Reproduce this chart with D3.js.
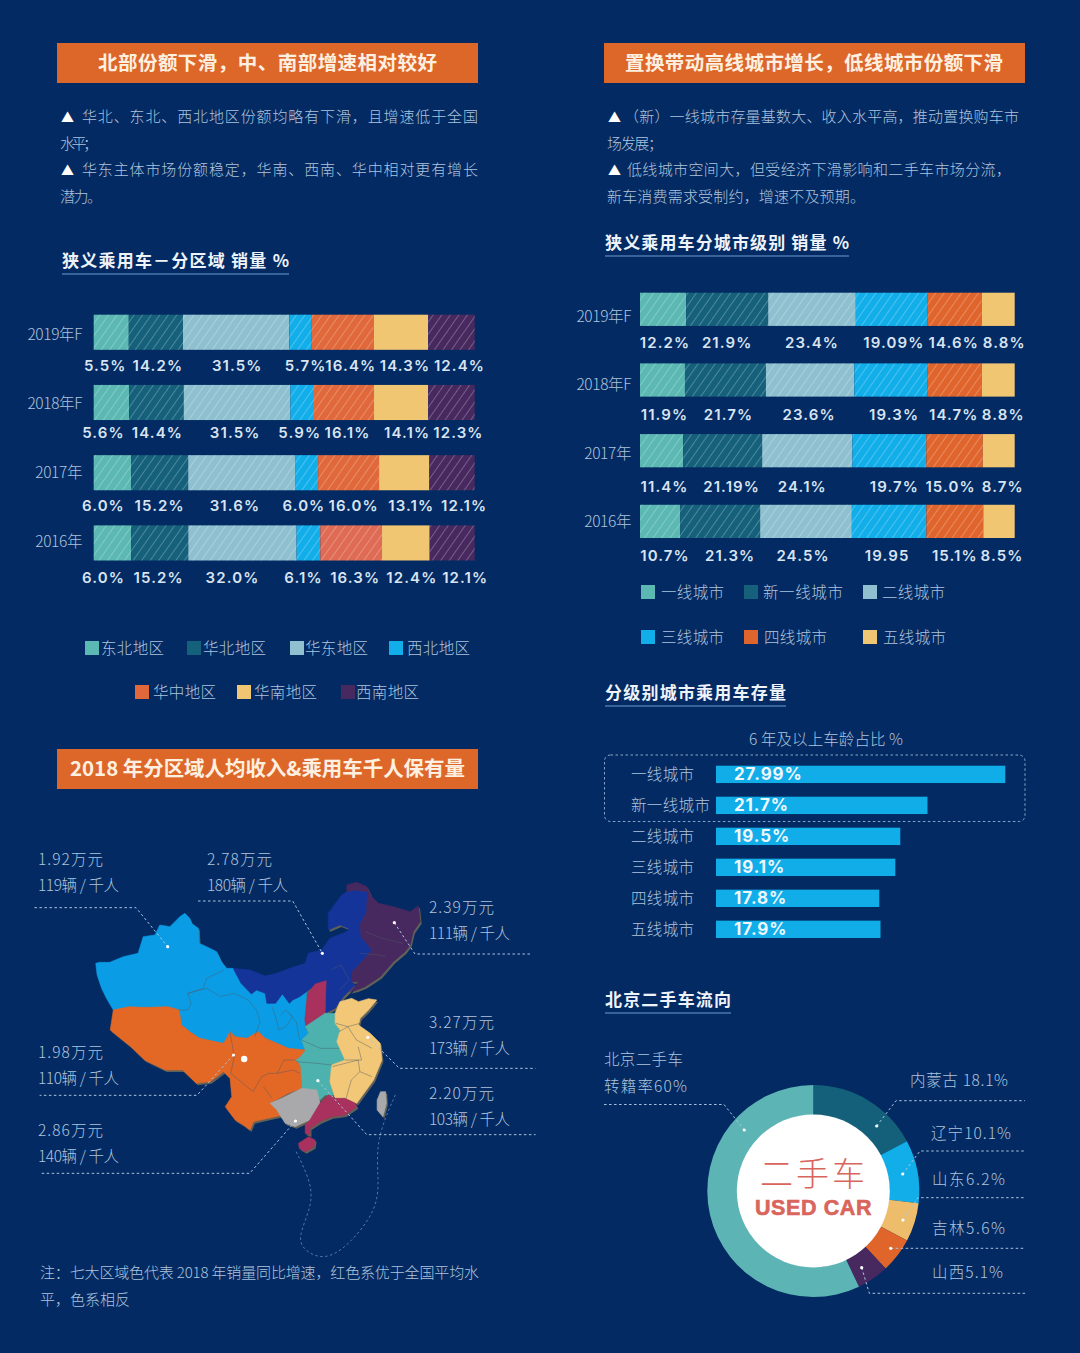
<!DOCTYPE html>
<html>
<head>
<meta charset="utf-8">
<script src="https://cdn.jsdelivr.net/npm/d3@7"></script>
<style>
    html, body { margin: 0; padding: 0; background: #032a62; }
    svg { display: block; }
    text { font-family: "Noto Sans CJK SC", sans-serif; }
</style>
</head>
<body>
<svg id="chart" width="1080" height="1353"></svg>
<script>
// region chart
const years = ["2019年F", "2018年F", "2017年", "2016年"];
const regions = ["东北地区", "华北地区", "华东地区", "西北地区", "华中地区", "华南地区", "西南地区"];
// segment lengths as drawn in the picture (they do not follow the printed labels exactly)
const regionShares = [
    [9.2, 14.2, 27.9, 5.9, 16.2, 14.3, 12.2],
    [9.3, 14.3, 28.0, 5.9, 16.0, 14.2, 12.2],
    [9.8, 15.0, 28.2, 5.9, 16.0, 13.2, 11.9],
    [9.8, 15.0, 28.4, 6.2, 16.2, 12.5, 11.8],
];
const regionLabels = [
    ["5.5%", "14.2%", "31.5%", "5.7%", "16.4%", "14.3%", "12.4%"],
    ["5.6%", "14.4%", "31.5%", "5.9%", "16.1%", "14.1%", "12.3%"],
    ["6.0%", "15.2%", "31.6%", "6.0%", "16.0%", "13.1%", "12.1%"],
    ["6.0%", "15.2%", "32.0%", "6.1%", "16.3%", "12.4%", "12.1%"],
];

// city tier chart
const tiers = ["一线城市", "新一线城市", "二线城市", "三线城市", "四线城市", "五线城市"];
const tierShares = [
    [12.3, 21.9, 23.4, 19.2, 14.4, 8.8],
    [12.0, 21.6, 23.6, 19.6, 14.4, 8.8],
    [11.5, 21.1, 24.1, 19.7, 15.1, 8.5],
    [10.7, 21.4, 24.5, 19.9, 15.2, 8.4],
];
const tierLabels = [
    ["12.2%", "21.9%", "23.4%", "19.09%", "14.6%", "8.8%"],
    ["11.9%", "21.7%", "23.6%", "19.3%", "14.7%", "8.8%"],
    ["11.4%", "21.19%", "24.1%", "19.7%", "15.0%", "8.7%"],
    ["10.7%", "21.3%", "24.5%", "19.95", "15.1%", "8.5%"],
];

// car age bars
const ageValues = [27.99, 21.7, 19.5, 19.1, 17.8, 17.9];
const ageLabels = ["27.99%", "21.7%", "19.5%", "19.1%", "17.8%", "17.9%"];

// flow donut
const flowNames = ["内蒙古", "辽宁", "山东", "吉林", "山西", "北京二手车转籍率"];
const flowValues = [18.1, 10.1, 6.2, 5.6, 5.1, 60];

// map callouts
const mapIncome = ["1.92万元", "2.78万元", "2.39万元", "3.27万元", "2.20万元", "1.98万元", "2.86万元"];
const mapCars = ["119辆 / 千人", "180辆 / 千人", "111辆 / 千人", "173辆 / 千人", "103辆 / 千人", "110辆 / 千人", "140辆 / 千人"];

// map outlines, traced in a 1568x1320 tracing space
const mapShapes = [
    { fill: "#0a9de6", pts: [[278,370],[290,367],[319,367],[358,350],[401,340],[416,290],[450,285],[464,255],[493,260],[508,245],[522,230],[537,220],[551,235],[556,250],[576,265],[578,310],[600,320],[629,335],[643,365],[658,385],[677,385],[700,430],[730,462],[745,450],[770,460],[775,490],[800,490],[820,462],[840,490],[850,480],[870,470],[890,455],[885,565],[896,580],[876,600],[886,630],[837,625],[794,605],[770,595],[750,575],[716,595],[683,590],[668,575],[658,595],[648,610],[580,595],[551,575],[527,555],[524,535],[520,510],[488,500],[435,502],[406,502],[377,500],[353,505],[329,510],[309,475],[295,445],[282,405]] },
    { fill: "#15349a", pts: [[677,385],[726,390],[770,408],[803,400],[842,385],[886,370],[895,340],[934,330],[958,295],[1007,275],[1012,265],[987,255],[953,270],[953,220],[992,165],[1007,155],[1030,150],[1070,155],[1065,190],[1065,215],[1045,255],[1049,290],[1080,330],[1060,355],[1023,395],[1021,425],[1031,435],[997,470],[973,505],[944,520],[947,425],[920,432],[890,455],[870,470],[850,480],[840,490],[820,462],[800,490],[775,490],[770,460],[745,450],[730,462],[700,430]] },
    { fill: "#47295f", pts: [[1007,155],[1007,135],[1036,127],[1065,140],[1079,170],[1099,190],[1142,200],[1191,215],[1215,197],[1220,245],[1200,275],[1191,315],[1176,335],[1142,365],[1104,410],[1060,440],[1036,450],[1016,455],[1026,445],[1041,425],[1021,425],[1023,395],[1060,355],[1080,330],[1049,290],[1045,255],[1065,215],[1065,190],[1070,155],[1030,150]] },
    { fill: "#a8315e", pts: [[915,432],[947,422],[945,470],[944,522],[925,540],[890,560],[885,540],[890,490],[895,460]] },
    { fill: "#4db2ae", pts: [[886,560],[944,520],[973,520],[973,550],[988,570],[978,605],[1002,660],[963,675],[958,725],[968,765],[944,765],[929,780],[886,750],[876,745],[871,675],[857,660],[871,650],[886,630],[876,600],[896,580]] },
    { fill: "#f2c777", pts: [[973,520],[987,485],[1021,475],[1041,485],[1070,476],[1094,480],[1070,510],[1046,535],[1041,555],[1075,580],[1104,610],[1109,660],[1085,720],[1036,790],[1002,775],[973,775],[958,725],[963,675],[1002,660],[978,605],[988,570],[973,550]] },
    { fill: "#e36826", pts: [[329,510],[353,505],[377,500],[406,502],[435,502],[488,500],[520,510],[524,535],[527,555],[551,575],[580,595],[648,610],[658,595],[668,575],[683,590],[716,595],[750,575],[770,595],[794,605],[837,625],[886,630],[871,650],[857,660],[871,675],[876,745],[837,760],[784,790],[804,810],[823,825],[779,835],[736,845],[726,870],[707,855],[683,840],[654,800],[673,770],[668,715],[649,695],[610,725],[570,730],[530,690],[480,690],[420,660],[380,620],[320,570]] },
    { fill: "#a9a9ab", pts: [[784,790],[818,775],[876,745],[920,750],[929,790],[900,840],[857,860],[828,850],[813,825],[804,810]] },
    { fill: "#a8315e", pts: [[929,790],[954,765],[973,775],[1002,775],[1031,790],[1036,800],[1002,825],[963,830],[929,845],[900,865],[900,885],[886,880],[886,855],[900,840]] },
    { fill: "#a8315e", pts: [[867,910],[896,890],[915,900],[912,920],[886,935],[869,925]] },
    { fill: "#a9a9ab", pts: [[1105,755],[1120,755],[1122,790],[1112,830],[1095,810],[1095,780]] },
];
const mapBorders = [
    [[520,510],[545,510],[555,490],[545,460],[590,445],[600,415],[650,390]],
    [[545,460],[600,445],[640,470],[680,460],[720,480],[745,510],[755,545],[740,590]],
    [[790,500],[800,530],[810,570],[830,560],[850,530],[830,510],[815,525]],
    [[840,520],[860,545],[870,600]],
    [[668,575],[680,650],[670,700],[735,755],[760,710],[780,700],[805,700],[825,660],[857,660]],
    [[765,740],[790,775]],
    [[805,700],[850,690],[871,700]],
    [[876,600],[930,625],[985,625]],
    [[860,665],[920,670],[963,675]],
    [[975,550],[1010,560],[1045,550]],
    [[985,575],[1010,560],[1035,600],[1080,625]],
    [[1002,660],[1050,660],[1040,620]],
    [[965,680],[1040,660],[1045,695],[1080,710]],
    [[1045,695],[1020,720],[1005,775]],
    [[1060,275],[1110,295],[1170,310]],
    [[1045,340],[1100,345],[1120,350]],
    [[960,390],[990,375],[1015,420],[985,450]],
];
const mapLeaders = [
    [[100,203],[395,203],[487,320]],
    [[575,183],[850,183],[936,340]],
    [[1145,248],[1205,342],[1540,342]],
    [[1068,592],[1160,685],[1555,685]],
    [[923,722],[1065,884],[1555,884]],
    [[678,645],[572,766],[115,766]],
    [[858,843],[725,1000],[120,1000]],
];
const seaLine = [[860,935],[905,1030],[905,1100],[865,1190],[880,1230],[940,1262],[1010,1220],[1095,1110],[1100,1020],[1090,900],[1150,760]];

const regionColors = ["#5bb8b2", "#15607a", "#8fc0d0", "#12aeea", "#e0683a", "#f1c673", "#47295f"];
const tierColors = ["#5bb8b2", "#15607a", "#8fc0d0", "#12aeea", "#e0652c", "#f1c673"];
const bodyColor = "#aec4de";
const dashColor = "#a9c4e2";

const svg = d3.select("#chart");

svg.append("rect")
    .attr("width", 1080)
    .attr("height", 1353)
    .attr("fill", "#032a62");

// diagonal hatch used on the stacked bars
const hatch = svg
    .append("defs")
    .append("pattern")
    .attr("id", "hatch")
    .attr("patternUnits", "userSpaceOnUse")
    .attr("width", 7)
    .attr("height", 7)
    .attr("patternTransform", "rotate(35)");
hatch
    .append("line")
    .attr("x1", 3.5)
    .attr("x2", 3.5)
    .attr("y1", 0)
    .attr("y2", 7)
    .attr("stroke", "#fff")
    .attr("stroke-opacity", 0.25)
    .attr("stroke-width", 1);

function addText(x, y, str, opts = {}) {
    const node = svg
        .append("text")
        .attr("x", x)
        .attr("y", y)
        .attr("dy", "0.36em")
        .attr("fill", opts.color || bodyColor)
        .attr("font-size", opts.size || 15)
        .attr("font-weight", opts.weight || 300)
        .attr("text-anchor", opts.anchor || "start")
        .text(str);
    if (opts.family) node.style("font-family", opts.family);
    if (opts.spacing) node.attr("letter-spacing", opts.spacing);
    if (opts.width) node.attr("textLength", opts.width).attr("lengthAdjust", "spacing");
    return node;
}

function addBullet(x, y) {
    addText(x, y, "▲", { color: "#ffffff", size: 13, weight: 400 });
}

function addHeader(x, y, str, textX, textWidth, size) {
    svg.append("rect")
        .attr("x", x)
        .attr("y", y)
        .attr("width", 421)
        .attr("height", 40)
        .attr("fill", "#dd6629");
    addText(textX, y + 20, str, { color: "#fdf0e0", size: size, weight: 700, width: textWidth });
}

function addSubtitle(x, y, str, width) {
    addText(x, y, str, { color: "#eef3fa", size: 17, weight: 700, width: width });
    svg.append("line")
        .attr("x1", x)
        .attr("x2", x + width)
        .attr("y1", y + 13)
        .attr("y2", y + 13)
        .attr("stroke", "#6d9ad2")
        .attr("stroke-width", 1);
}

function addLeader(points, x, y) {
    const line = d3.line().x(x).y(y);
    svg.append("path")
        .attr("d", line(points))
        .attr("fill", "none")
        .attr("stroke", dashColor)
        .attr("stroke-width", 1)
        .attr("stroke-dasharray", "2.5 2.5");
}

function addDot(cx, cy, r) {
    svg.append("circle")
        .attr("cx", cx)
        .attr("cy", cy)
        .attr("r", r)
        .attr("fill", "#fff");
}

function drawStacked(cfg) {
    const x = d3.scaleLinear().domain([0, 1]).range(cfg.range);
    const y = d3.scaleBand().domain(years).range(cfg.yRange).paddingInner(cfg.padding);
    const keys = cfg.colors.map((c, i) => i);
    const table = cfg.shares.map(row => Object.fromEntries(row.map((v, i) => [i, v])));
    const series = d3.stack().keys(keys).offset(d3.stackOffsetExpand)(table);

    series.forEach((layer, k) => {
        layer.forEach((seg, r) => {
            const x0 = x(seg[0]);
            const x1 = x(seg[1]);
            const yTop = y(years[r]);
            // the 2016 华中 segment is a redder orange in the picture
            const isRedder = cfg.redder && cfg.redder[0] === r && cfg.redder[1] === k;
            svg.append("rect")
                .attr("x", x0)
                .attr("y", yTop)
                .attr("width", x1 - x0)
                .attr("height", y.bandwidth())
                .attr("fill", isRedder ? "#df6b55" : cfg.colors[k]);
            if (k !== cfg.plain) {
                svg.append("rect")
                    .attr("x", x0)
                    .attr("y", yTop)
                    .attr("width", x1 - x0)
                    .attr("height", y.bandwidth())
                    .attr("fill", "url(#hatch)");
            }
            addText((x0 + x1) / 2 + cfg.nudges[r][k], cfg.labelY[r], cfg.labels[r][k], {
                color: "#d8e4f2",
                size: 15,
                weight: 600,
                anchor: "middle",
                spacing: 1.1,
                family: "Inter, sans-serif",
            });
        });
    });

    years.forEach((yr, r) => {
        addText(cfg.yearX, cfg.yearY[r], yr, { size: 15.5, anchor: "end", spacing: -0.4 });
    });
}

function drawLegend(names, colors, spots) {
    names.forEach((name, i) => {
        const s = spots[i];
        svg.append("rect")
            .attr("x", s[0])
            .attr("y", s[2] - 7)
            .attr("width", 14)
            .attr("height", 14)
            .attr("fill", colors[i]);
        addText(s[1], s[2], name, { size: 15.5, width: name.length === 5 ? 80 : 63 });
    });
}

// ---- headers and copy ----
addHeader(57, 43, "北部份额下滑，中、南部增速相对较好", 98, 339, 19.5);
addHeader(604, 43, "置换带动高线城市增长，低线城市份额下滑", 625, 378, 19.5);
addHeader(57, 749, "2018 年分区域人均收入&乘用车千人保有量", 70, 395, 20.5);

addBullet(61, 117);
addText(82, 117, "华北、东北、西北地区份额均略有下滑，且增速低于全国", { width: 396 });
addText(60, 144, "水平；", { width: 38 });
addBullet(61, 170);
addText(82, 170, "华东主体市场份额稳定，华南、西南、华中相对更有增长", { width: 396 });
addText(60, 197, "潜力。", { width: 42 });

addBullet(608, 117);
addText(624, 117, "（新）一线城市存量基数大、收入水平高，推动置换购车市", { width: 395 });
addText(607, 144, "场发展；", { width: 56 });
addBullet(608, 170);
addText(627, 170, "低线城市空间大，但受经济下滑影响和二手车市场分流，", { width: 384 });
addText(607, 197, "新车消费需求受制约，增速不及预期。", { width: 258 });

addSubtitle(62, 261, "狭义乘用车－分区域  销量 %", 227);
addSubtitle(605, 243, "狭义乘用车分城市级别 销量 %", 244);
addSubtitle(605, 693, "分级别城市乘用车存量", 181);
addSubtitle(605, 1000, "北京二手车流向", 126);

// ---- stacked bars ----
drawStacked({
    shares: regionShares,
    labels: regionLabels,
    colors: regionColors,
    plain: 5,
    redder: [3, 4],
    range: [93.7, 474.7],
    yRange: [314.7, 560.5],
    padding: 0.5,
    yearX: 82,
    yearY: [334, 403, 472, 541],
    labelY: [366, 432.5, 505.7, 578],
    nudges: [
        [-6, 2, 1, 5, 8, 4, 8],
        [-8, 1, -2, -2, 4, 6, 7],
        [-9, 0, -7, -3, 5, 7, 12],
        [-9, -1, -10, -5, 4, 6, 13],
    ],
});

drawStacked({
    shares: tierShares,
    labels: tierLabels,
    colors: tierColors,
    plain: 5,
    range: [640, 1014.7],
    yRange: [292.7, 538],
    padding: 0.53,
    yearX: 631,
    yearY: [316, 384.5, 453, 521],
    labelY: [342.3, 415, 486.7, 555.7],
    nudges: [
        [2, 0, 0, 2, -1, 6],
        [2, 3, -1, 3, -1, 5],
        [3, 9, -5, 5, -4, 4],
        [5, 10, -3, -2, 0, 3],
    ],
});

drawLegend(regions, regionColors, [
    [85, 101, 648], [187, 203, 648], [290, 305, 648], [389, 407, 648],
    [135, 153, 692], [237, 254, 692], [341, 356, 692],
]);
drawLegend(tiers, tierColors, [
    [641, 661, 592], [744, 763, 592], [863, 882, 592],
    [641, 661, 637], [744, 764, 637], [863, 883, 637],
]);

// ---- car age bars ----
addText(749, 739, "6 年及以上车龄占比 %", { size: 15.5, width: 154 });

svg.append("rect")
    .attr("x", 604.5)
    .attr("y", 755)
    .attr("width", 420.5)
    .attr("height", 66.5)
    .attr("rx", 6)
    .attr("fill", "none")
    .attr("stroke", dashColor)
    .attr("stroke-opacity", 0.8)
    .attr("stroke-dasharray", "2.5 2.5");

// the picture's bars start from a cut baseline, about 4.6
const ageX = d3.scaleLinear().domain([4.6, 27.99]).range([716, 1005.3]);
const ageY = d3.scaleBand().domain(tiers).range([765.7, 938]).paddingInner(0.44);

tiers.forEach((tier, i) => {
    const yTop = ageY(tier);
    const mid = yTop + ageY.bandwidth() / 2;
    svg.append("rect")
        .attr("x", ageX.range()[0])
        .attr("y", yTop)
        .attr("width", ageX(ageValues[i]) - ageX.range()[0])
        .attr("height", ageY.bandwidth())
        .attr("fill", "#11ade8");
    addText(631, mid, tier, { size: 15.5, width: tier.length === 5 ? 79 : 63 });
    addText(734, mid, ageLabels[i], {
        color: "#eef7fd",
        size: 17,
        weight: 700,
        spacing: 0.9,
        family: "Inter, sans-serif",
    });
});

// ---- map ----
const mapX = d3.scaleLinear().domain([0, 1568]).range([0, 540]);
const mapY = d3.scaleLinear().domain([0, 1320]).range([840, 1280]);
const shapeLine = d3
    .line()
    .x(d => mapX(d[0]))
    .y(d => mapY(d[1]))
    .curve(d3.curveLinearClosed);
const openLine = d3
    .line()
    .x(d => mapX(d[0]))
    .y(d => mapY(d[1]));

svg.append("path")
    .attr("d", d3.line().x(d => mapX(d[0])).y(d => mapY(d[1])).curve(d3.curveBasis)(seaLine))
    .attr("fill", "none")
    .attr("stroke", "#4a7bb0")
    .attr("stroke-width", 1)
    .attr("stroke-dasharray", "2.5 2.5");

mapShapes.forEach(shape => {
    svg.append("path")
        .attr("d", shapeLine(shape.pts))
        .attr("transform", "translate(1.5,2)")
        .attr("fill", "#5f6058");
});
mapShapes.forEach(shape => {
    svg.append("path")
        .attr("d", shapeLine(shape.pts))
        .attr("fill", shape.fill)
        .attr("stroke", shape.fill)
        .attr("stroke-width", 0.6)
        .attr("stroke-linejoin", "round");
});
mapBorders.forEach(border => {
    svg.append("path")
        .attr("d", openLine(border))
        .attr("fill", "none")
        .attr("stroke", "#4c5a66")
        .attr("stroke-opacity", 0.55)
        .attr("stroke-width", 0.8);
});

mapLeaders.forEach(points => {
    addLeader(points, d => mapX(d[0]), d => mapY(d[1]));
});
[[487, 320], [936, 340], [1145, 248], [1068, 592], [923, 722], [678, 645], [858, 843]].forEach(p => {
    addDot(mapX(p[0]), mapY(p[1]), 1.6);
});
addDot(mapX(709), mapY(657), 3.2);

const calloutSpots = [[38, 859], [207, 859], [429, 907], [429, 1022], [429, 1093], [38, 1052], [38, 1130]];
calloutSpots.forEach((spot, i) => {
    addText(spot[0], spot[1], mapIncome[i], { size: 15.5, width: 65 });
    addText(spot[0], spot[1] + 26.5, mapCars[i], { size: 15.5, width: 81 });
});

addText(40, 1273, "注：七大区域色代表 2018 年销量同比增速，红色系优于全国平均水", { width: 439 });
addText(40, 1300, "平，色系相反", { width: 90 });

// ---- donut ----
const donutColors = ["#14607a", "#12aeea", "#eebd6b", "#e0652a", "#47295f", "#5cb4b5"];
const pie = d3.pie().sort(null);
const arc = d3.arc().innerRadius(76).outerRadius(106);
const donut = svg.append("g").attr("transform", "translate(813.3,1191)");

donut
    .selectAll("path")
    .data(pie(flowValues))
    .join("path")
    .attr("d", arc)
    .attr("fill", (d, i) => donutColors[i]);
donut.append("circle").attr("r", 76.5).attr("fill", "#fff");

addText(814, 1174, "二手车", { color: "#d9655c", size: 33, weight: 300, anchor: "middle", spacing: 3 });
addText(813.5, 1207, "USED CAR", {
    color: "#d9655c",
    size: 21.5,
    weight: 700,
    anchor: "middle",
    family: '"Liberation Sans", sans-serif',
    spacing: 0.6,
})
    .attr("stroke", "#d9655c")
    .attr("stroke-width", 0.6);

const flowLeaders = [
    [[876.7, 1126], [896, 1100.7], [1025, 1100.7]],
    [[902.7, 1174], [920, 1151], [1025, 1151]],
    [[903, 1220], [918, 1197.7], [1025, 1197.7]],
    [[890.7, 1248.3], [1025, 1248.3]],
    [[861.7, 1267.7], [869.3, 1293.3], [1025, 1293.3]],
    [[744.3, 1130], [724, 1104.5], [604, 1104.5]],
];
flowLeaders.forEach(points => {
    addLeader(points, d => d[0], d => d[1]);
    addDot(points[0][0], points[0][1], 1.6);
});

const flowSpots = [[910, 1080, 98], [931, 1133, 80], [932, 1179, 73], [932, 1228, 73], [932, 1272, 71]];
flowSpots.forEach((spot, i) => {
    const gap = i === 0 ? " " : "";
    addText(spot[0], spot[1], `${flowNames[i]}${gap}${flowValues[i].toFixed(1)}%`, { size: 15.5, width: spot[2] });
});
addText(604, 1059, "北京二手车", { size: 15.5, width: 79 });
addText(604, 1086, "转籍率60%", { size: 15.5, width: 83 });
</script>
</body>
</html>
